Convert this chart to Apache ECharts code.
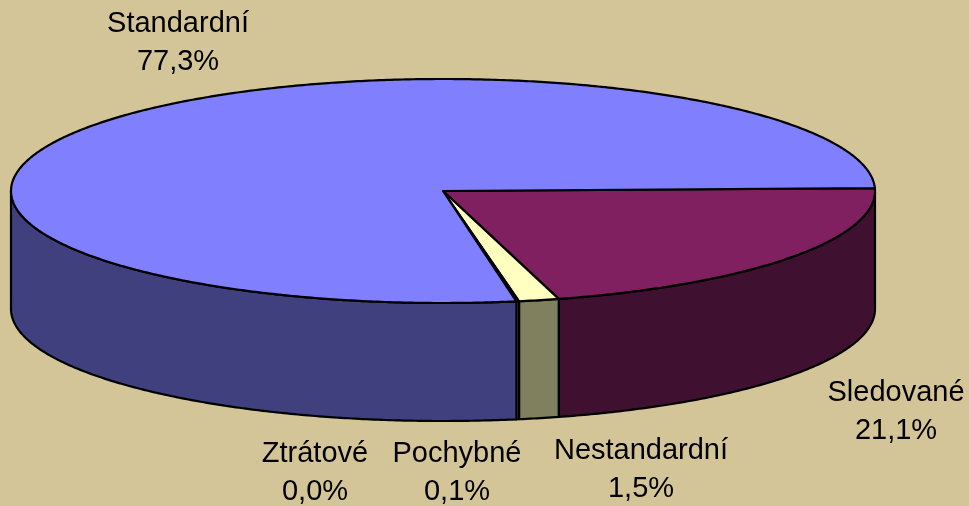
<!DOCTYPE html>
<html lang="cs">
<head>
<meta charset="UTF-8">
<title>Struktura úvěrů</title>
<script src="https://cdn.jsdelivr.net/npm/echarts@6/dist/echarts.min.js"></script>
<style>
    html, body { margin: 0; padding: 0; background: #D4C599; }
    #main { width: 969px; height: 506px; }
</style>
</head>
<body>
<div id="main"></div>
<script>
// data, clockwise from the right edge of the pie
var categories = ['Sledované', 'Nestandardní', 'Pochybné', 'Ztrátové', 'Standardní'];
var values = [21.1, 1.5, 0.1, 0.0, 77.3];

// colours: top face and (darker) side
var topColors = ['#802060', '#FFFFC0', '#C0FFFF', '#600060', '#8080FF'];
var sideColors = ['#401030', '#80805F', '#608080', '#300030', '#40407F'];

// pie geometry (top ellipse + thickness), first slice angle
var cx = 443, cy = 191, rx = 432, ry = 112, depth = 118;
var startDeg = -1.5;

// label places: center x, baseline of first line
var labelPos = [[896, 403], [641, 461], [457, 464], [315, 464], [178, 34]];
var lineGap = 38;

var total = values.reduce(function (a, b) { return a + b; }, 0);
var angles = [];
var acc = startDeg;
values.forEach(function (v) {
    var span = v / total * 360;
    angles.push([acc, acc + span]);
    acc += span;
});

function pt(deg, dy) {
    var t = deg * Math.PI / 180;
    return [cx + rx * Math.cos(t), cy + ry * Math.sin(t) + (dy || 0)];
}
function arc(a, b, dy) {
    var pts = [];
    var n = Math.max(1, Math.ceil(Math.abs(b - a) * 2));
    for (var i = 0; i <= n; i++) pts.push(pt(a + (b - a) * i / n, dy));
    return pts;
}

var edge = { stroke: '#000', lineWidth: 2.2, lineJoin: 'round' };

function renderSide(params, api) {
    var i = params.dataIndex;
    var lo = Math.max(angles[i][0], 0), hi = Math.min(angles[i][1], 180);
    if (hi <= lo) return null;
    return {
        type: 'polygon',
        shape: { points: arc(lo, hi, 0).concat(arc(hi, lo, depth)) },
        style: Object.assign({ fill: sideColors[i] }, edge)
    };
}

function renderTop(params, api) {
    var i = params.dataIndex;
    if (api.value(0) <= 0) return null;
    return {
        type: 'polygon',
        shape: { points: [[cx, cy]].concat(arc(angles[i][0], angles[i][1], 0)) },
        style: Object.assign({ fill: topColors[i] }, edge)
    };
}

function fmt(v) { return v.toFixed(1).replace('.', ',') + '%'; }

var labels = [];
categories.forEach(function (name, i) {
    [name, fmt(values[i])].forEach(function (txt, k) {
        labels.push({
            type: 'text',
            x: labelPos[i][0],
            y: labelPos[i][1] + k * lineGap - 10,
            style: {
                text: txt,
                fill: '#000',
                font: '29px "Liberation Sans", Arial, sans-serif',
                align: 'center', verticalAlign: 'middle',
                textAlign: 'center', textVerticalAlign: 'middle'
            }
        });
    });
});

var myChart = echarts.init(document.getElementById('main'));
var option = {
    backgroundColor: '#D4C599',
    animation: false,
    graphic: labels,
    series: [
        {
            type: 'custom',
            name: 'sides',
            coordinateSystem: 'none',
            renderItem: renderSide,
            data: values,
            z: 1
        },
        {
            type: 'custom',
            name: 'tops',
            coordinateSystem: 'none',
            renderItem: renderTop,
            data: values,
            z: 2
        }
    ]
};
myChart.setOption(option);
</script>
</body>
</html>
